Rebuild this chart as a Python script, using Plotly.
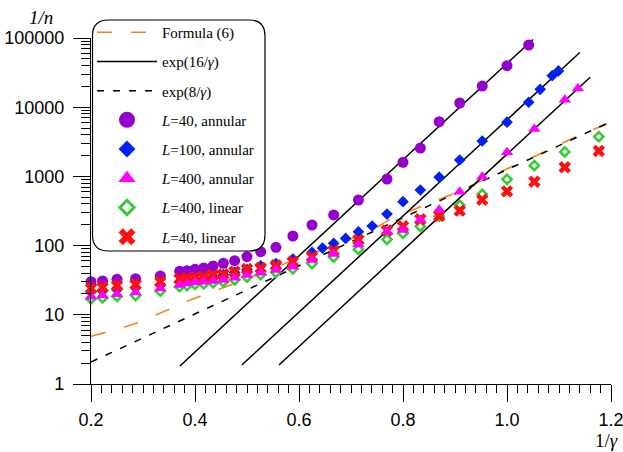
import numpy as np
import plotly.graph_objects as go

# ---- data: 1/gamma on x, 1/n on y ----
x_common = [0.2, 0.2222, 0.25, 0.2857, 0.3333, 0.3704, 0.3846, 0.4, 0.4167, 0.4348,
            0.4545, 0.4762, 0.5, 0.5263, 0.5556, 0.5882, 0.625, 0.6667, 0.7143,
            0.7692, 0.8, 0.8333, 0.8696, 0.9091, 0.9524, 1.0]

# L=40, annular
x_l40_ann = x_common + [1.0417]
y_l40_ann = [30.1, 30.8, 32.6, 33.2, 36.4, 42.5, 43.4, 45.4, 47.5, 50.7, 55.5, 60.5,
             69.2, 81.6, 94.5, 137.6, 198.5, 277, 456, 917, 1600, 2570, 6170,
             11500, 20200, 39800, 79200]

# L=100, annular
x_l100_ann = [0.2, 0.2222, 0.25, 0.2857, 0.3333, 0.3704, 0.3846, 0.4, 0.4167, 0.4348,
              0.4545, 0.4762, 0.5, 0.5263, 0.5556, 0.5882, 0.625, 0.6452, 0.6667,
              0.6897, 0.7143, 0.7407, 0.7692, 0.8, 0.8333, 0.8696, 0.9091, 0.9524,
              1.0, 1.0417, 1.0638, 1.087, 1.0989]
y_l100_ann = [21.5, 22, 23, 24.5, 27, 30, 31, 32, 33.5, 35.5, 38, 41, 45, 51, 55,
              64, 80, 92, 108, 127, 158, 192, 285, 431, 636, 975, 1726, 3250, 6070,
              11800, 18100, 28500, 33400]

# L=400, annular
x_l400_ann = x_common + [1.0526, 1.1111, 1.1364]
y_l400_ann = [18.3, 19, 19.8, 21, 24, 27, 28.5, 29.5, 30.1, 30.8, 31.8, 34.4, 37.6,
              40.5, 44.4, 49.6, 62, 75.6, 104, 159, 168, 237, 330, 601, 991, 2230,
              4840, 12800, 18600]

# L=400, linear
x_l400_lin = x_common + [1.0526, 1.1111, 1.1765]
y_l400_lin = [17, 17.5, 18.5, 19, 22, 25.5, 26.5, 27.5, 28, 29, 30, 32, 35, 38, 41,
              46, 55, 68, 88, 123, 150, 190, 265, 382, 551, 908, 1428, 2260, 3750]

# L=40, linear
x_l40_lin = x_common + [1.0526, 1.1111, 1.1765]
y_l40_lin = [24.2, 25, 26.5, 27.5, 30, 33, 33.7, 34.5, 35.5, 37.6, 38.5, 42, 45.9,
             47.5, 52, 58.5, 69, 84, 121, 165, 190, 240, 268, 320, 460, 608, 838,
             1353, 2330]

# Formula (6)
x_formula = [0.2, 0.277, 0.338, 0.396, 0.463, 0.525, 0.586, 0.665, 0.733, 0.777,
             0.837, 0.897, 1.016, 1.079, 1.138, 1.2]
y_formula = [4.9, 7.1, 11, 16.9, 26, 39, 60, 99, 158, 242, 373, 565, 1460, 2400,
             3900, 6000]

# exp(16/gamma) guide lines: prefactor and 1/gamma span of each
exp16_prefactor = [4.82e-3, 7.4e-4, 2.36e-4]
exp16_span = [(0.371, 1.05), (0.490, 1.14), (0.5615, 1.16)]

# exp(8/gamma) guide line
exp8_prefactor = 0.42
exp8_span = (0.2, 1.2)

# axis ticks
x_ticks = [0.2, 0.4, 0.6, 0.8, 1.0, 1.2]
y_ticks = [1, 10, 100, 1000, 10000, 100000]
y_tick_labels = ["1", "10", "100", "1000", "10000", "100000"]

# ---- styling ----
SERIF = "Liberation Serif, Times New Roman, serif"
SANS = "Liberation Sans, Arial, Helvetica, sans-serif"
C_ORANGE = "#F5821F"
C_PURPLE = "#9400CC"
C_BLUE = "#0022F0"
C_MAGENTA = "#FF00FF"
C_GREEN = "#33CC33"
C_RED = "#FF1010"

W, H = 623, 452
ML, MR, MT, MB = 91, 12, 38, 68
PW, PH = W - ML - MR, H - MT - MB


def px2paper(px, py):
    return (px - ML) / PW, (H - MB - py) / PH


fig = go.Figure()

# Formula (6)
fig.add_trace(go.Scatter(
    x=x_formula, y=y_formula, mode="lines", name="Formula (6)",
    line=dict(color=C_ORANGE, width=1.6, dash="15px,19px", shape="spline", smoothing=0.6),
    legendgroup="g1"))

# exp(16/gamma) segments joined into one trace with gaps
ex, ey = [], []
for a, (x0, x1) in zip(exp16_prefactor, exp16_span):
    xs = np.linspace(x0, x1, 20)
    ex += list(xs) + [None]
    ey += list(a * np.exp(16 * xs)) + [None]
fig.add_trace(go.Scatter(
    x=ex, y=ey, mode="lines", name="exp(16/<i>γ</i>)",
    line=dict(color="black", width=1.5), legendgroup="g2"))

# exp(8/gamma)
xs8 = np.linspace(exp8_span[0], exp8_span[1], 40)
fig.add_trace(go.Scatter(
    x=xs8, y=exp8_prefactor * np.exp(8 * xs8), mode="lines", name="exp(8/<i>γ</i>)",
    line=dict(color="black", width=1.5, dash="7px,9px"), legendgroup="g3"))

series = [
    ("<i>L</i>=40, annular", x_l40_ann, y_l40_ann,
     dict(symbol="circle", color=C_PURPLE, size=11), dict(symbol="circle", color=C_PURPLE, size=16)),
    ("<i>L</i>=100, annular", x_l100_ann, y_l100_ann,
     dict(symbol="diamond", color=C_BLUE, size=9), dict(symbol="diamond", color=C_BLUE, size=13)),
    ("<i>L</i>=400, annular", x_l400_ann, y_l400_ann,
     dict(symbol="triangle-up", color=C_MAGENTA, size=11), dict(symbol="triangle-up", color=C_MAGENTA, size=15)),
    ("<i>L</i>=400, linear", x_l400_lin, y_l400_lin,
     dict(symbol="diamond-open", color=C_GREEN, size=7, line=dict(width=2.6, color=C_GREEN)),
     dict(symbol="diamond-open", color=C_GREEN, size=11, line=dict(width=3, color=C_GREEN))),
    ("<i>L</i>=40, linear", x_l40_lin, y_l40_lin,
     dict(symbol="x", color=C_RED, size=11, line=dict(width=0)),
     dict(symbol="x", color=C_RED, size=15, line=dict(width=0))),
]

# legend entries for marker series
for i, (name, _, _, _, mleg) in enumerate(series):
    fig.add_trace(go.Scatter(x=[None], y=[None], mode="markers", name=name,
                             marker=mleg, legendgroup=f"m{i}"))

# data markers, drawn so that triangles sit on top
draw_order = [0, 1, 3, 4, 2]
for i in draw_order:
    name, xs, ys, mk, _ = series[i]
    fig.add_trace(go.Scatter(x=xs, y=ys, mode="markers", name=name,
                             marker=mk, showlegend=False, cliponaxis=False))

# rounded legend frame
lx0, lx1, ly0, ly1, r = 92.5, 265.0, 20.0, 251.0, 16.0
def P(px, py):
    a, b = px2paper(px, py)
    return f"{a:.5f},{b:.5f}"
path = (f"M{P(lx0 + r, ly0)} L{P(lx1 - r, ly0)} Q{P(lx1, ly0)} {P(lx1, ly0 + r)} "
        f"L{P(lx1, ly1 - r)} Q{P(lx1, ly1)} {P(lx1 - r, ly1)} "
        f"L{P(lx0 + r, ly1)} Q{P(lx0, ly1)} {P(lx0, ly1 - r)} "
        f"L{P(lx0, ly0 + r)} Q{P(lx0, ly0)} {P(lx0 + r, ly0)} Z")
fig.add_shape(type="path", path=path, xref="paper", yref="paper",
              line=dict(color="black", width=1.2), fillcolor="white", layer="above")

lgx, lgy = px2paper(92, 16)
fig.update_layout(
    width=W, height=H,
    margin=dict(l=ML, r=MR, t=MT, b=MB, autoexpand=False),
    paper_bgcolor="white", plot_bgcolor="white",
    showlegend=True,
    legend=dict(x=lgx, y=lgy, xanchor="left", yanchor="top",
                bgcolor="rgba(0,0,0,0)", borderwidth=0,
                font=dict(family=SERIF, size=15, color="black"),
                itemwidth=60, tracegroupgap=6.7, itemsizing="trace",
                maxheight=420),
    xaxis=dict(range=[0.2, 1.2], tickvals=x_ticks, tickformat=".1f",
               showline=True, linecolor="black", linewidth=1.3,
               ticks="outside", ticklen=17, tickwidth=1.3, tickcolor="black",
               minor=dict(ticks="outside", ticklen=8, tickwidth=1, tickcolor="black", dtick=0.02),
               showgrid=False, zeroline=False, automargin=False, ticklabelstandoff=2,
               ticklabeloverflow="allow",
               tickfont=dict(family=SANS, size=18, color="black")),
    yaxis=dict(type="log", range=[0, 5], tickvals=y_ticks, ticktext=y_tick_labels,
               showline=True, linecolor="black", linewidth=1.3,
               ticks="outside", ticklen=17, tickwidth=1.3, tickcolor="black",
               minor=dict(ticks="outside", ticklen=9, tickwidth=1, tickcolor="black", dtick="D1"),
               showgrid=False, zeroline=False, automargin=False, ticklabelstandoff=5,
               ticklabeloverflow="allow",
               tickfont=dict(family=SANS, size=18, color="black")),
)

ax, ay = px2paper(41, 17)
fig.add_annotation(x=ax, y=ay, xref="paper", yref="paper", text="<i>1/n</i>",
                   xanchor="center", yanchor="middle",
                   showarrow=False, font=dict(family=SERIF, size=19, color="black"))
bx, by = px2paper(606, 440)
fig.add_annotation(x=bx, y=by, xref="paper", yref="paper", text="1/<i>γ</i>",
                   xanchor="center", yanchor="middle",
                   showarrow=False, font=dict(family=SERIF, size=19, color="black"))

fig.write_html("out.html")
